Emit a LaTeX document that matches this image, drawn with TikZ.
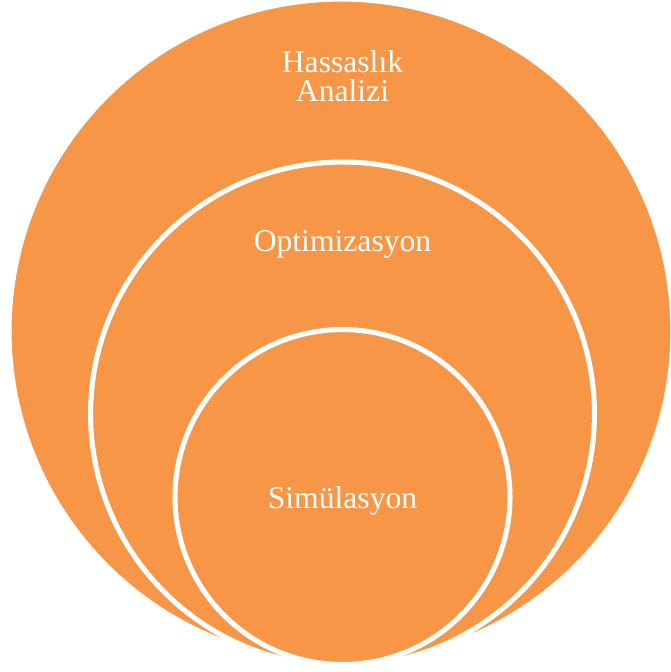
\documentclass[tikz,border=0pt]{standalone}
\usepackage{fontspec}
\setmainfont{Liberation Serif}
\usepackage{tikz}
\usetikzlibrary{positioning}
\definecolor{accentorange}{HTML}{F79646}
\tikzset{ring/.style={circle, draw=white, fill=accentorange, line width=2.9pt, inner sep=0pt}}
\tikzset{label/.style={text=white, align=center, anchor=base, inner sep=0pt, font=\fontsize{18}{17}\selectfont}}

\begin{document}
\begin{tikzpicture}[x=0.02cm, y=-0.02cm]

    \useasboundingbox (0,0) rectangle (670,672);

    \node [ring, minimum size=13.28cm] (outerRing) at (341,331) {};
    \node [ring, minimum size=10.08cm] (middleRing) at (342.5,414) {};
    \node [ring, minimum size=6.7cm] (innerRing) at (342.5,497) {};

    \node [label] (hassasLabel) at (342.5,102) {Hassaslık\\Analizi};
    \node [label] (optimLabel) at (342.5,251) {Optimizasyon};
    \node [label] (simLabel) at (342.5,508) {Simülasyon};

\end{tikzpicture}
\end{document}
